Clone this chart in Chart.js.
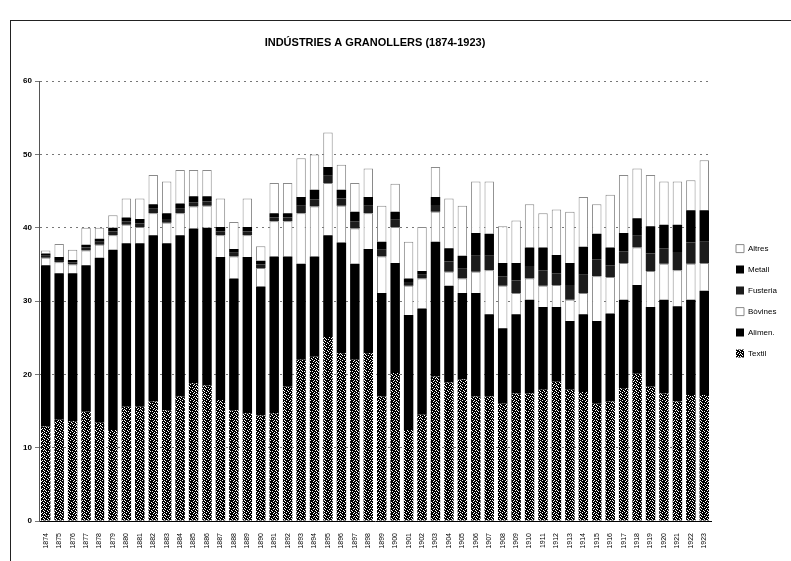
<!DOCTYPE html>
<html>
<head>
<meta charset="utf-8">
<script src="https://cdn.jsdelivr.net/npm/chart.js@4"></script>
<style>
  html, body { margin: 0; padding: 0; background: #fff; }
  #wrap { position: relative; width: 791px; height: 561px; }
  #frame { position: absolute; left: 10px; top: 20px; right: 0; bottom: 0;
           border-left: 1px solid #222; border-top: 1px solid #222; pointer-events: none; }
</style>
</head>
<body>
<div id="wrap">
  <canvas id="chart" width="791" height="561"></canvas>
  <div id="frame"></div>
</div>
<script>
const years = ['1874','1875','1876','1877','1878','1879','1880','1881','1882','1883',
  '1884','1885','1886','1887','1888','1889','1890','1891','1892','1893',
  '1894','1895','1896','1897','1898','1899','1900','1901','1902','1903',
  '1904','1905','1906','1907','1908','1909','1910','1911','1912','1913',
  '1914','1915','1916','1917','1918','1919','1920','1921','1922','1923'];

const textil = [12.9,13.8,13.6,14.9,13.4,12.4,15.6,15.6,16.3,15.1,
  17.0,18.8,18.5,16.5,15.1,14.7,14.4,14.7,18.3,22.0,
  22.4,25.1,22.9,22.0,22.9,17.0,20.2,12.4,14.5,19.7,
  18.9,19.3,17.0,17.0,16.0,17.4,17.4,17.9,19.0,17.9,
  17.6,16.0,16.3,18.1,20.1,18.3,17.4,16.3,17.2,17.2];

const alimen = [22.0,20.0,20.2,20.0,22.5,24.6,22.3,22.3,22.7,22.8,
  22.0,21.1,21.5,19.5,18.0,21.3,17.6,21.4,17.8,13.1,
  13.7,13.9,15.1,13.1,14.2,14.1,15.0,15.7,14.5,18.4,
  13.2,11.8,14.1,11.2,10.3,10.8,12.8,11.3,10.2,9.4,
  10.6,11.3,12.0,12.1,12.1,10.9,12.8,13.0,13.0,14.2];

const bovines = [1.0,1.5,1.2,2.0,1.8,2.0,2.5,2.2,3.0,2.8,
  3.0,3.0,3.0,3.0,3.0,3.0,2.5,4.8,4.8,6.9,
  6.8,7.1,5.0,4.8,4.9,5.0,4.9,4.0,4.1,4.1,
  1.9,2.0,2.9,6.0,5.8,2.9,2.9,2.9,3.0,2.9,
  2.9,6.1,5.0,5.0,5.1,4.9,4.9,4.9,4.9,3.8];

const fusteria = [0.3,0.3,0.3,0.4,0.4,0.5,0.5,0.5,0.6,0.5,
  0.6,0.6,0.6,0.5,0.5,0.5,0.5,0.5,0.5,1.0,
  1.0,1.0,1.0,1.0,1.0,0.9,1.0,0.5,0.5,0.9,
  1.4,1.3,2.2,2.0,1.3,1.7,1.7,2.1,1.6,2.0,
  2.5,2.3,1.6,1.6,1.6,2.4,2.1,2.5,2.9,2.9];

const metall = [0.3,0.4,0.3,0.4,0.4,0.5,0.5,0.6,0.6,0.8,
  0.7,0.8,0.7,0.6,0.5,0.6,0.5,0.6,0.6,1.2,
  1.3,1.2,1.2,1.3,1.2,1.1,1.1,0.5,0.5,1.1,
  1.8,1.8,3.1,3.0,1.8,2.4,2.5,3.1,2.5,3.0,
  3.8,3.5,2.4,2.5,2.4,3.7,3.2,3.7,4.4,4.3];

const altres = [0.4,1.8,1.4,2.3,1.5,1.7,2.6,2.8,4.0,4.3,
  4.6,3.6,3.6,3.9,3.7,3.9,2.0,4.1,4.1,5.3,
  4.8,4.7,3.4,3.9,3.9,4.9,3.8,5.0,6.0,4.1,
  6.8,6.8,7.0,7.1,5.0,5.8,5.9,4.7,6.2,7.0,
  6.8,4.0,7.2,7.9,6.8,7.0,5.9,5.9,4.1,6.8];

const yTicks = [0, 10, 20, 30, 40, 50, 60];

// small bitmap fill, like the printed screen of the original
function makePattern(rows) {
  const c = document.createElement('canvas');
  c.width = rows[0].length;
  c.height = rows.length;
  const g = c.getContext('2d');
  g.fillStyle = '#fff';
  g.fillRect(0, 0, c.width, c.height);
  g.fillStyle = '#000';
  rows.forEach(function(r, y) {
    for (let x = 0; x < r.length; x++) {
      if (r[x] === '1') g.fillRect(x, y, 1, 1);
    }
  });
  return g.createPattern(c, 'repeat');
}

const textilFill = makePattern([
  '11011101', '10110111', '11101011', '01111101',
  '11010111', '10111011', '11101110', '01110111']);

const legendShift = {
  id: 'legendShift',
  beforeInit(chart) {
    const fit = chart.legend.fit;
    chart.legend.fit = function() {
      fit.call(this);
      this.width = 80;
    };
  },
  afterLayout(chart) {
    chart.legend.left += 12;
    chart.legend.right += 12;
  }
};

const axisSize = {
  x: function(scale) { scale.height = 40; },
  y: function(scale) { scale.width = 39; }
};

function ds(label, data, fill, border) {
  return {
    label: label,
    data: data,
    backgroundColor: fill,
    borderColor: border || fill,
    borderWidth: border ? 1 : 0,
    barPercentage: 0.95,
    categoryPercentage: 0.74
  };
}

new Chart(document.getElementById('chart'), {
  type: 'bar',
  data: {
    labels: years,
    datasets: [
      ds('Textil', textil, textilFill),
      ds('Alimen.', alimen, '#000'),
      ds('Bòvines', bovines, '#fff', '#8a8a8a'),
      ds('Fusteria', fusteria, '#1c1c1c'),
      ds('Metall', metall, '#000'),
      ds('Altres', altres, '#fff', '#8a8a8a')
    ]
  },
  plugins: [legendShift],
  options: {
    responsive: false,
    animation: false,
    layout: { padding: { top: 0, left: 0, right: 0, bottom: 0 } },
    plugins: {
      title: {
        display: true,
        text: 'INDÚSTRIES A GRANOLLERS (1874-1923)',
        color: '#000',
        fullSize: false,
        font: { size: 11, weight: 'bold', family: "'Liberation Sans', Arial, sans-serif" },
        padding: { top: 36, bottom: 32 }
      },
      legend: {
        position: 'right',
        fullSize: false,
        reverse: true,
        labels: {
          color: '#000',
          boxWidth: 8,
          boxHeight: 8,
          padding: 13,
          font: { size: 8, family: "'Liberation Sans', Arial, sans-serif" }
        }
      },
      tooltip: { enabled: false }
    },
    scales: {
      x: {
        stacked: true,
        afterFit: axisSize.x,
        grid: { display: false },
        border: { color: '#000' },
        ticks: {
          color: '#000',
          autoSkip: false,
          minRotation: 90,
          maxRotation: 90,
          padding: 4,
          font: { size: 7, family: "'Liberation Sans', Arial, sans-serif" }
        }
      },
      y: {
        stacked: true,
        min: 0,
        max: 60,
        afterFit: axisSize.y,
        afterBuildTicks: function(scale) {
          scale.ticks = yTicks.map(function(v) { return { value: v }; });
        },
        grid: { color: '#777', lineWidth: 1, tickLength: 4 },
        border: { color: '#555', dash: [2, 4] },
        ticks: {
          color: '#000',
          padding: 3,
          font: { size: 8, weight: 'bold', family: "'Liberation Sans', Arial, sans-serif" }
        }
      }
    }
  }
});
</script>
</body>
</html>
